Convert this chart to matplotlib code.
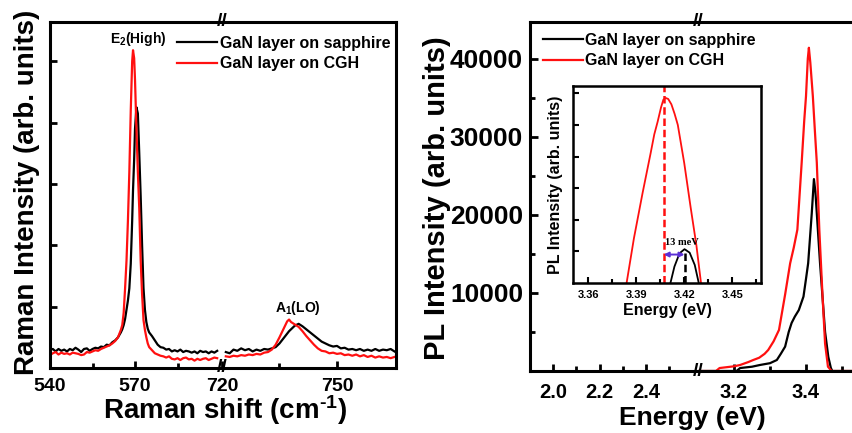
import matplotlib
matplotlib.use("Agg")
import matplotlib.pyplot as plt
from matplotlib.ticker import FixedLocator, NullFormatter, FormatStrFormatter

plt.rcParams['font.family'] = ['Liberation Sans', 'DejaVu Sans']
plt.rcParams['font.weight'] = 'bold'
plt.rcParams['axes.labelweight'] = 'bold'
plt.rcParams['mathtext.fontset'] = 'custom'
plt.rcParams['mathtext.rm'] = 'Liberation Sans:bold'
plt.rcParams['mathtext.bf'] = 'Liberation Sans:bold'
plt.rcParams['mathtext.default'] = 'bf'

# ---- Raman data ----
raman_x_lo = [540, 541, 542, 543, 544, 545, 546, 547, 548, 549, 550, 551, 552, 553, 554,
              555, 556, 557, 558, 559, 560, 561, 562, 563, 564, 565, 565.5, 566, 566.5, 567,
              567.5, 568, 568.5, 569, 569.3, 569.7, 570, 570.5, 571, 571.5, 572, 572.5, 573,
              573.5, 574, 574.5, 575, 576, 577, 578, 579, 580, 581, 582, 583, 584, 585, 586,
              587, 588, 589, 590, 591, 592, 593, 594, 595, 596, 597, 598, 599]
raman_sapph_lo = [0.29, 0.31, 0.27, 0.31, 0.28, 0.30, 0.27, 0.31, 0.29, 0.33, 0.30, 0.26, 0.31,
                  0.32, 0.28, 0.31, 0.33, 0.32, 0.35, 0.34, 0.38, 0.37, 0.42, 0.45, 0.50, 0.58,
                  0.63, 0.70, 0.80, 0.95, 1.10, 1.30, 1.70, 2.40, 2.90, 3.40, 3.90, 4.25, 4.15,
                  3.50, 2.80, 2.00, 1.30, 0.95, 0.75, 0.64, 0.58, 0.52, 0.45, 0.38, 0.34, 0.33,
                  0.30, 0.31, 0.27, 0.29, 0.27, 0.30, 0.26, 0.28, 0.27, 0.25, 0.27, 0.24, 0.28,
                  0.26, 0.27, 0.24, 0.27, 0.25, 0.28]
raman_cgh_lo = [0.21, 0.24, 0.26, 0.22, 0.25, 0.23, 0.24, 0.22, 0.25, 0.24, 0.23, 0.21, 0.22,
                0.26, 0.25, 0.27, 0.29, 0.28, 0.31, 0.33, 0.35, 0.37, 0.40, 0.44, 0.50, 0.62,
                0.70, 0.90, 1.30, 1.75, 2.40, 3.20, 4.20, 5.00, 5.18, 5.05, 4.70, 3.90, 3.20,
                2.60, 1.75, 1.20, 0.78, 0.62, 0.50, 0.40, 0.34, 0.29, 0.24, 0.22, 0.20, 0.19,
                0.17, 0.19, 0.15, 0.14, 0.16, 0.13, 0.16, 0.17, 0.14, 0.15, 0.12, 0.15, 0.13,
                0.15, 0.16, 0.13, 0.15, 0.17, 0.16]

raman_x_hi = [721, 722, 723, 724, 725, 726, 727, 728, 729, 730, 731, 732, 733, 734, 735, 736,
              737, 737.5, 738, 739, 740, 741, 742, 743, 744, 745, 746, 747, 748, 749, 750, 751,
              752, 753, 754, 755, 756, 757, 758, 759, 760, 761, 762, 763, 764, 765]
raman_sapph_hi = [0.26, 0.24, 0.30, 0.28, 0.32, 0.29, 0.31, 0.27, 0.30, 0.28, 0.31, 0.30, 0.32,
                  0.34, 0.40, 0.48, 0.56, 0.60, 0.63, 0.69, 0.72, 0.68, 0.63, 0.58, 0.53, 0.48,
                  0.43, 0.40, 0.37, 0.35, 0.36, 0.32, 0.33, 0.30, 0.31, 0.29, 0.31, 0.28, 0.30,
                  0.28, 0.31, 0.28, 0.30, 0.29, 0.31, 0.27]
raman_cgh_hi = [0.19, 0.18, 0.20, 0.19, 0.21, 0.20, 0.22, 0.21, 0.23, 0.22, 0.25, 0.26, 0.30,
                0.38, 0.50, 0.63, 0.76, 0.79, 0.75, 0.71, 0.67, 0.60, 0.52, 0.45, 0.38, 0.32,
                0.28, 0.27, 0.24, 0.25, 0.23, 0.24, 0.21, 0.22, 0.20, 0.22, 0.19, 0.21, 0.18,
                0.20, 0.17, 0.19, 0.17, 0.18, 0.16, 0.18]

# ---- PL data ----
pl_x_lo = [1.90, 2.62]
pl_y_lo = [0, 0]
pl_cgh_x = [3.10, 3.15, 3.16, 3.20, 3.217, 3.24, 3.253, 3.27, 3.285, 3.295, 3.31, 3.325, 3.342,
            3.356, 3.366, 3.376, 3.388, 3.395, 3.400, 3.405, 3.408, 3.412, 3.419, 3.425, 3.430,
            3.437, 3.446, 3.453, 3.461, 3.471, 3.60]
pl_cgh_y = [0, 0, 380, 600, 770, 1150, 1400, 1700, 2200, 2690, 3800, 5260, 9800, 13800, 15800,
            18100, 26700, 32000, 35200, 40000, 41400, 39500, 35200, 30500, 26700, 18100, 9530,
            3500, 550, 0, 0]
pl_sapph_x = [3.10, 3.207, 3.217, 3.25, 3.272, 3.30, 3.319, 3.33, 3.342, 3.352, 3.360, 3.369,
              3.380, 3.393, 3.400, 3.406, 3.411, 3.416, 3.422, 3.426, 3.430, 3.439, 3.453,
              3.462, 3.469, 3.473, 3.60]
pl_sapph_y = [0, 0, 380, 550, 770, 1000, 1410, 2200, 3120, 5000, 6150, 6970, 7800, 9530, 11800,
              13800, 17000, 20200, 24580, 23000, 20200, 13800, 5000, 1800, 400, 0, 0]

# ---- inset data ----
ins_cgh_x = [3.384, 3.3886, 3.394, 3.399, 3.4013, 3.4034, 3.4055, 3.407, 3.4085, 3.410, 3.412,
             3.414, 3.416, 3.420, 3.424, 3.4276, 3.4305]
ins_cgh_y = [0, 1.42, 2.85, 4.10, 4.70, 5.10, 5.55, 5.80, 5.85, 5.82, 5.65, 5.35, 5.00, 3.80,
             2.40, 1.20, 0]
ins_sapph_x = [3.4114, 3.4139, 3.4171, 3.4202, 3.4234, 3.4266, 3.4291]
ins_sapph_y = [0, 0.52, 0.94, 1.07, 0.96, 0.57, 0]
peak_cgh = 3.4072
peak_sapph = 3.4202

lab_sapph = 'GaN layer on sapphire'
lab_cgh = 'GaN layer on CGH'
RED = '#ff1010'

W, H = 853, 433
fig = plt.figure(figsize=(W / 100, H / 100), dpi=100)


def box(x0, y0, x1, y1):
    return [x0 / W, 1 - y1 / H, (x1 - x0) / W, (y1 - y0) / H]


def style(ax, left=True, right=False):
    for s in ax.spines.values():
        s.set_linewidth(2.2)
    ax.spines['left'].set_visible(left)
    ax.spines['right'].set_visible(right)
    ax.tick_params(which='both', direction='in', width=2, top=False, right=False)
    ax.tick_params(which='major', length=5)
    ax.tick_params(which='minor', length=3.5)
    if not left:
        ax.tick_params(axis='y', which='both', left=False, labelleft=False)


# ================= Raman panel =================
a1 = fig.add_axes(box(50, 22, 222, 368))
a2 = fig.add_axes(box(222, 22, 396, 368))
for ax, xs, ys_s, ys_c in [(a1, raman_x_lo, raman_sapph_lo, raman_cgh_lo),
                            (a2, raman_x_hi, raman_sapph_hi, raman_cgh_hi)]:
    ax.plot(xs, ys_s, color='black', lw=1.6)
    ax.plot(xs, ys_c, color=RED, lw=1.6)
    ax.set_ylim(0, 5.64)
a1.set_xlim(540, 600.7)
a2.set_xlim(720, 765.4)
style(a1, left=True)
style(a2, left=False, right=True)
a1.yaxis.set_major_locator(FixedLocator([1, 2, 3, 4, 5]))
a1.yaxis.set_major_formatter(NullFormatter())
a1.xaxis.set_major_locator(FixedLocator([540, 570]))
a1.xaxis.set_minor_locator(FixedLocator([555, 585]))
a2.xaxis.set_major_locator(FixedLocator([720, 750]))
a2.xaxis.set_minor_locator(FixedLocator([735]))
for ax in (a1, a2):
    ax.tick_params(axis='x', labelsize=14, pad=7)
a1.text(571.2, 5.37, r'E$_2$(High)', fontsize=10, ha='center', va='center')
a2.text(739.7, 0.98, r'A$_1$(LO)', fontsize=10, ha='center', va='center')

h1, = a1.plot([], [], color='black', lw=1.6)
h2, = a1.plot([], [], color=RED, lw=1.6)
fig.legend([h1, h2], [lab_sapph, lab_cgh], loc='upper left',
           bbox_to_anchor=(177 / W, 1 - 36 / H), frameon=False, fontsize=11.5,
           handlelength=2.5, handletextpad=0.2, labelspacing=0.32,
           borderpad=0, borderaxespad=0)

fig.text(27 / W, 1 - 192 / H, 'Raman Intensity (arb. units)', rotation=90,
         fontsize=20, ha='center', va='center')
fig.text(225 / W, 1 - 410 / H, 'Raman shift (cm$^{\u20101}$)', fontsize=20,
         ha='center', va='center')

# ================= PL panel =================
b1 = fig.add_axes(box(530, 22, 698, 371))
b2 = fig.add_axes(box(698, 22, 878, 371))
b1.plot(pl_x_lo, pl_y_lo, color='black', lw=1.4)
b1.plot(pl_x_lo, pl_y_lo, color=RED, lw=1.4, ls=(0, (2, 2)))
b2.plot(pl_sapph_x, pl_sapph_y, color='black', lw=1.6)
b2.plot(pl_cgh_x, pl_cgh_y, color=RED, lw=1.6)
b1.set_xlim(1.90, 2.624)
b2.set_xlim(3.10, 3.60)
for ax in (b1, b2):
    ax.set_ylim(0, 44700)
style(b1, left=True)
style(b2, left=False)
b1.yaxis.set_major_locator(FixedLocator([10000, 20000, 30000, 40000]))
b1.yaxis.set_minor_locator(FixedLocator([5000, 15000, 25000, 35000]))
b1.tick_params(axis='y', which='major', length=6, labelsize=19, pad=5)
b1.xaxis.set_major_locator(FixedLocator([2.0, 2.2, 2.4]))
b1.xaxis.set_minor_locator(FixedLocator([2.1, 2.3, 2.5]))
b1.xaxis.set_major_formatter(FormatStrFormatter('%.1f'))
b2.xaxis.set_major_locator(FixedLocator([3.2, 3.4]))
b2.xaxis.set_minor_locator(FixedLocator([3.3, 3.5]))
b2.xaxis.set_major_formatter(FormatStrFormatter('%.1f'))
for ax in (b1, b2):
    ax.tick_params(axis='x', labelsize=14.5, pad=9)

fig.legend([h1, h2], [lab_sapph, lab_cgh], loc='upper left',
           bbox_to_anchor=(543 / W, 1 - 33 / H), frameon=False, fontsize=11.5,
           handlelength=2.5, handletextpad=0.15, labelspacing=0.32,
           borderpad=0, borderaxespad=0)

fig.text(437 / W, 1 - 198 / H, 'PL Intensity (arb. units)', rotation=90,
         fontsize=21, ha='center', va='center')
fig.text(692 / W, 1 - 418 / H, 'Energy (eV)', fontsize=19, ha='center', va='center')

# break marks
for bx, ys in [(222, (22, 368)), (698, (22, 371))]:
    for by in ys:
        fig.text(bx / W, 1 - by / H, '//', fontsize=14, ha='center', va='center',
                 fontweight='bold')

# ================= inset =================
ins = fig.add_axes(box(573, 86, 761, 283))
ins.plot(ins_cgh_x, ins_cgh_y, color=RED, lw=1.3)
ins.plot(ins_sapph_x, ins_sapph_y, color='black', lw=1.3)
ins.plot([peak_cgh, peak_cgh], [0, 6.23], color=RED, lw=1.8, ls=(0, (3, 1.5)))
ins.plot([peak_sapph, peak_sapph], [0, 1.07], color='black', lw=1.8, ls=(0, (3, 1.5)))
ins.annotate('', xy=(peak_cgh, 0.9), xytext=(peak_sapph, 0.9),
             arrowprops=dict(arrowstyle='<|-|>', color='#5b2fd6', lw=1.4,
                             mutation_scale=7, shrinkA=0, shrinkB=0))
ins.text(3.4185, 1.27, '13 meV', fontsize=7.5, ha='center', va='center',
         family='Liberation Serif', fontweight='bold')
ins.set_xlim(3.3505, 3.468)
ins.set_ylim(0, 6.23)
for s in ins.spines.values():
    s.set_linewidth(1.8)
ins.tick_params(which='both', direction='in', width=1.5, top=False, right=False)
ins.tick_params(which='major', length=4)
ins.tick_params(which='minor', length=3)
ins.xaxis.set_major_locator(FixedLocator([3.36, 3.39, 3.42, 3.45]))
ins.xaxis.set_minor_locator(FixedLocator([3.375, 3.405, 3.435, 3.465]))
ins.xaxis.set_major_formatter(FormatStrFormatter('%.2f'))
ins.yaxis.set_major_locator(FixedLocator([1, 2, 3, 4, 5, 6]))
ins.yaxis.set_major_formatter(NullFormatter())
ins.tick_params(axis='x', labelsize=8, pad=5)
ins.set_xlabel('Energy (eV)', fontsize=11.5, labelpad=2)
ins.set_ylabel('PL Intensity (arb. units)', fontsize=11.5, labelpad=4)

fig.savefig('out.png', dpi=100)
